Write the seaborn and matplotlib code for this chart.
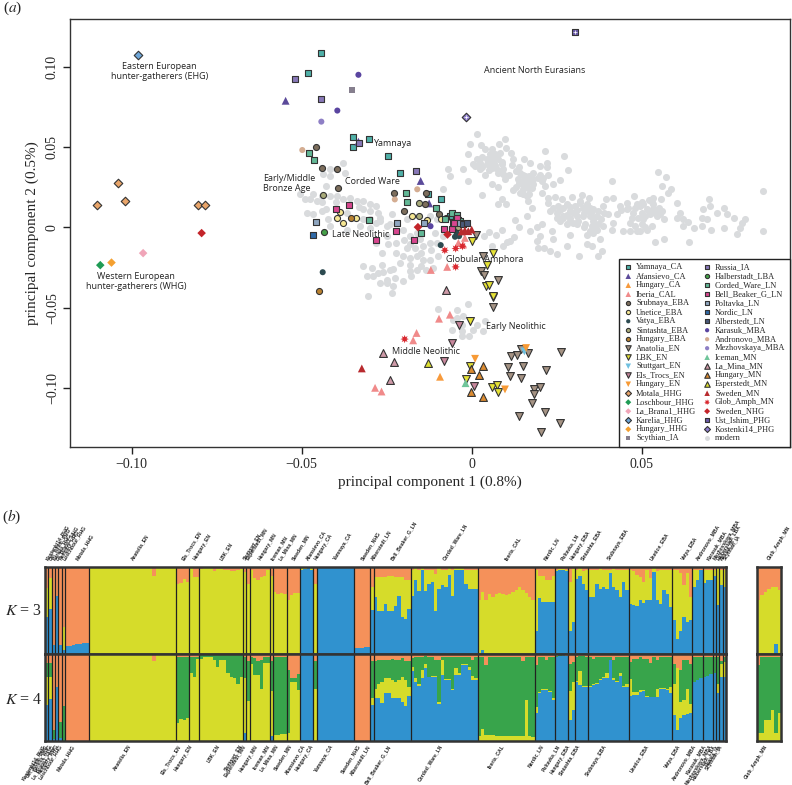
import numpy as np
import pandas as pd
import seaborn as sns
import matplotlib
matplotlib.use('Agg')
from matplotlib import pyplot as plt

sns.set_theme(style="ticks")
plt.rcParams['font.family'] = ['Liberation Serif', 'DejaVu Sans']
plt.rcParams['mathtext.fontset'] = 'stix'

# PCA coordinates below are (pc1, pc2) in thousandths
yamnaya_ca = [(-44.3, 108.8), (-48.1, 96.5), (-35.0, 56.5), (-35.0, 50.2), (-30.1, 55.0), (-24.5, 44.6), (-21.1, 33.8),
              (-12.7, 20.6), (-9.1, 17.5), (-6.4, 7.1), (-5.5, 3.5)]
afansievo_ca = [(-54.7, 79.0), (-33.3, 53.5), (-15.0, 29.0), (-12.5, 15.0)]
hungary_ca = [(-9.3, -93.1)]
iberia_cal = [(-12.0, -26.5), (-7.2, -24.6), (-3.9, -9.6), (-2.0, -6.5), (-2.5, -10.6), (-9.6, -56.9), (-6.4, -54.4),
              (-16.2, -65.8), (-17.2, -70.4), (-28.4, -100.0), (-26.5, -102.3)]
srubnaya_eba = [(-45.8, 50.4), (-44.1, 37.3), (-39.5, 36.7), (-39.2, 24.8), (-22.9, 21.7), (-20.0, 10.2), (-13.3, 21.7),
                (-13.8, 14.4), (-9.6, 8.1)]
unetice_eba = [(-39.5, 5.8), (-38.7, 9.6), (-37.8, 2.5), (-34.0, 5.8), (-17.4, 6.9), (-13.0, 4.6), (-9.1, 5.4)]
vatya_eba = [(-43.8, -27.9), (-9.1, -11.0), (-4.9, -5.8), (-3.7, -5.4), (-4.4, -3.3)]
sintashta_eba = [(-43.8, 20.2), (-15.4, 15.0), (-15.4, 7.1), (-4.1, 0.4), (-7.5, 6.0)]
hungary_eba = [(-35.6, 6.0), (-44.8, -39.6)]
anatolia_en = [(6.2, -49.8), (11.5, -80.2), (13.2, -79.8), (14.4, -75.8), (16.7, -78.3), (26.2, -77.5), (10.8, -87.3),
               (15.0, -86.5), (21.8, -88.8), (11.3, -92.7), (14.6, -94.0), (18.3, -100.6), (20.2, -99.2), (18.3, -103.8),
               (17.8, -109.2), (21.7, -115.0), (13.9, -117.5), (26.0, -121.9), (20.4, -127.7), (3.4, -17.5), (2.7, -26.9),
               (3.6, -29.8), (7.6, -32.5), (1.3, -5.0)]
lbk_en = [(-0.5, -58.5), (6.4, -43.3), (-0.4, -86.3), (-1.8, -94.4), (5.9, -99.2), (7.4, -98.5), (7.8, -102.3), (6.2, -15.8),
          (4.6, -23.1), (4.1, -36.3), (5.2, -35.6), (6.4, -42.9), (0.0, -8.5)]
stuttgart_en = [(15.5, -77.3)]
els_trocs_en = [(-3.7, -60.6), (-5.7, -72.3), (-8.0, -83.5), (0.7, -98.9)]
hungary_en = [(1.0, -81.9), (9.8, -101.0), (16.0, -75.2)]
motala_hhg = [(-104.0, 27.7), (-110.3, 14.0), (-101.9, 16.3), (-80.4, 14.0), (-78.4, 14.0)]
loschbour_hhg = [(-109.2, -23.5)]
la_brana1_hhg = [(-96.6, -16.0)]
karelia_hhg = [(-98.2, 107.7)]
hungary_hhg = [(-105.9, -21.9)]
scythian_ia = [(-35.1, 85.6)]
russia_ia = [(-52.0, 92.3), (-44.2, 80.0), (-33.0, 52.9), (-16.5, 35.4), (-4.1, 4.6)]
halberstadt_lba = [(-43.4, -2.7)]
corded_ware_ln = [(-47.8, 46.3), (-46.4, 41.9), (-19.4, 21.7), (-19.0, 15.8), (-10.5, 12.1), (-5.9, 9.2), (-30.1, 4.8),
                  (-14.9, -3.3), (-7.9, 5.4), (-4.4, 7.5), (-3.5, 4.0)]
bell_beaker_g_ln = [(-39.9, 11.5), (-36.1, 13.8), (-22.3, -2.5), (-28.2, -7.7), (-16.9, -8.1), (-8.0, -0.8), (-5.9, -0.8),
                    (-4.4, 6.0), (-5.2, 2.9)]
poltavka_ln = [(-45.8, 3.5), (-21.9, 2.5), (-14.0, 2.7), (-3.5, 2.5)]
nordic_ln = [(-46.6, -4.6)]
alberstedt_ln = [(-2.5, 1.9), (-1.5, 2.5)]
karasuk_mba = [(-33.3, 95.2), (-39.5, 72.9), (-12.1, 0.8)]
andronovo_mba = [(-49.8, 48.3), (-22.6, 17.5), (-16.0, 23.8)]
mezhovskaya_mba = [(-44.2, 66.0)]
iceman_mn = [(-1.8, -97.1)]
la_mina_mn = [(-26.0, -78.3), (-22.8, -84.1), (-24.0, -95.2), (-7.4, -38.8)]
hungary_mn = [(3.2, -86.7), (2.3, -92.3), (-0.2, -88.3), (-0.2, -102.7), (3.3, -105.8)]
esperstedt_mn = [(-12.9, -84.8)]
sweden_mn = [(-1.0, -2.3), (0.0, -1.3), (-2.0, -1.8), (-3.0, -2.5), (-32.3, -87.9)]
glob_amph_mn = [(-7.9, -14.2), (-4.7, -13.1), (-2.7, -11.7), (-4.7, -24.6), (-19.7, -69.6)]
sweden_nhg = [(-79.4, -3.5), (-15.8, 0.2), (-7.1, -4.4)]
ust_ishim_phg = [(30.4, 121.9)]
kostenki14_phg = [(-1.6, 69.0)]

modern = [(1.7, 58.3), (9.8, 55.4), (8.1, 51.9), (2.6, 51.3), (3.9, 49.2), (5.9, 48.8), (10.1, 49.8), (11.6, 46.3), (21.6, 47.7),
          (27.1, 44.4), (8.3, 46.7), (6.9, 45.6), (12.2, 42.5), (15.5, 42.5), (17.1, 40.4), (22.2, 40.4), (1.5, 42.5), (4.4, 42.5),
          (6.4, 42.5), (7.8, 42.5), (2.4, 40.4), (4.4, 39.4), (6.4, 40.4), (8.8, 39.4), (1.0, 38.3), (2.4, 36.7), (5.9, 37.3),
          (7.3, 37.3), (9.3, 36.7), (12.0, 38.8), (14.0, 37.9), (20.1, 38.3), (22.2, 37.9), (28.4, 35.8), (14.2, 34.2), (18.1, 34.2),
          (7.8, 34.2), (9.3, 33.1), (3.9, 32.7), (9.8, 30.0), (15.7, 32.1), (19.6, 31.0), (22.5, 32.7), (13.7, 30.0), (17.1, 29.0),
          (15.2, 29.0), (20.6, 29.0), (26.0, 29.6), (41.2, 29.0), (54.9, 34.8), (57.1, 31.5), (55.9, 25.8), (58.5, 23.8), (57.8, 21.3),
          (85.8, 22.7), (5.9, 26.9), (7.8, 25.2), (21.6, 25.8), (24.0, 26.9), (12.2, 23.1), (14.2, 21.7), (16.2, 19.6), (17.6, 24.4),
          (3.0, 20.0), (8.8, 17.9), (7.8, 14.4), (10.1, 14.4), (15.2, 20.6), (16.7, 16.5), (20.6, 21.3), (22.5, 18.5), (24.5, 19.2),
          (26.5, 17.9), (29.4, 19.2), (32.5, 20.2), (34.6, 18.5), (39.4, 17.9), (41.7, 18.5), (47.7, 19.6), (53.4, 18.5), (52.0, 17.1),
          (55.6, 17.5), (60.3, 15.0), (69.8, 17.5), (70.1, 13.3), (68.1, 11.3), (74.3, 12.1), (72.2, 8.8), (75.0, 8.1), (77.0, 6.0),
          (80.4, 5.4), (79.4, 2.9), (78.9, -0.2), (78.1, -4.0), (85.6, -2.5), (74.2, -0.2), (70.4, -1.3), (67.6, 6.0), (67.6, 0.8),
          (69.3, 5.0), (65.5, -0.6), (63.7, 3.3), (62.0, 0.8), (60.5, 6.0), (61.3, 9.2), (62.2, 5.0), (56.6, 5.0), (54.9, 11.3),
          (53.4, 11.3), (52.9, 0.8), (51.5, -1.3), (48.5, -2.3), (46.6, -2.3), (44.6, -2.3), (56.6, -6.9), (53.9, -9.0), (63.9, -9.0),
          (41.7, 2.9), (41.2, -1.3), (38.7, 0.8), (37.7, -7.1), (38.2, -14.8), (37.2, -17.9), (35.3, -11.7), (33.8, -10.6), (31.7, -17.9),
          (27.9, -11.7), (25.2, -16.3), (23.0, -14.8), (21.3, -12.7), (19.6, -12.7), (19.1, -8.5), (20.1, -5.4), (24.0, -7.5), (23.5, -2.3),
          (26.0, 4.0), (27.9, 1.9), (29.9, 2.9), (30.9, 7.1), (32.8, 7.1), (34.8, 7.1), (36.8, 7.1), (28.9, 10.2), (27.0, 12.3), (25.0, 9.2),
          (23.0, 10.2), (22.5, 15.4), (27.9, 14.4), (31.9, 16.5), (33.8, 14.4), (35.8, 11.3), (38.7, 13.3), (42.6, 8.1), (40.2, 8.1),
          (43.6, 13.3), (45.6, 15.0), (47.5, 9.2), (49.5, 13.3), (51.5, 11.3), (46.6, 2.9), (50.5, 5.0), (55.4, 8.1), (54.4, 7.1),
          (33.8, -4.4), (35.8, -3.3), (33.3, 1.9), (35.3, 0.8), (28.9, -4.4), (20.6, 1.9), (19.1, 0.4), (17.1, -2.3), (14.0, 0.2),
          (12.7, 4.4), (16.2, 7.1), (17.6, 11.9), (12.5, -6.0), (10.3, -9.2), (9.3, -11.7), (7.3, -5.0), (8.8, -1.7), (5.2, -2.9),
          (3.6, -5.4), (11.3, -8.5), (5.9, -11.3), (25.0, 6.0), (27.0, 7.1), (28.9, 6.0), (31.4, 4.0), (33.3, 10.2), (35.8, 4.0),
          (37.2, 1.9), (37.2, 10.2), (34.8, 12.3), (32.8, 12.3), (30.4, 13.3), (25.5, 13.3), (45.6, 11.3), (48.0, 12.3), (50.0, 9.2),
          (52.4, 8.1), (53.9, 9.2), (48.5, 14.4), (50.5, 14.4), (53.4, 14.4), (49.5, -2.3), (34.8, -2.3), (36.8, -1.3), (0.5, 39.4),
          (5.4, 45.6), (16.2, 30.0), (14.7, 26.9), (16.7, 24.8),
          (-1.0, 45.6), (-1.0, 29.0), (-6.4, 32.1), (-8.4, 23.8), (-6.9, 36.3), (-2.5, 36.3), (-0.5, 51.9), (-50.5, 20.6), (-49.0, 17.5),
          (-47.6, 17.5), (-45.6, 16.5), (-46.6, 20.6), (-44.1, 19.6), (-41.7, 19.6), (-39.7, 19.6), (-37.8, 17.5), (-35.8, 18.5),
          (-33.8, 16.5), (-31.9, 16.5), (-29.9, 14.4), (-28.0, 13.3), (-48.5, 9.2), (-46.6, 8.1), (-44.1, 10.2), (-42.7, 11.3), (-42.2, 5.0),
          (-41.7, 0.8), (-36.8, -1.3), (-32.9, 0.8), (-29.9, -0.2), (-25.0, 0.8), (-27.0, 6.0), (-41.7, 32.1), (-43.6, 33.1), (-41.7, 36.3),
          (-37.8, 40.4), (-37.3, 34.2), (-42.7, 25.8), (-36.8, 9.2), (-31.9, 11.3), (-27.5, 9.2), (-23.5, 8.1), (-19.1, 5.0), (-12.3, 7.1),
          (-10.3, 5.0), (-8.4, -5.4), (-10.8, -3.3), (-14.2, -11.7), (-16.7, -12.7), (-19.1, -12.7), (-16.2, -17.9), (-18.2, -19.0),
          (-14.2, -20.0), (-20.1, -17.9), (-22.1, -15.8), (-26.5, -15.8), (-28.0, -9.6), (-24.5, -10.6), (-22.1, -9.6), (-12.3, -20.0),
          (-11.3, -25.2), (-13.3, -26.3), (-16.2, -26.3), (-17.7, -30.4), (-20.1, -33.5), (-22.6, -31.5), (-25.0, -32.5), (-27.5, -28.3),
          (-29.4, -25.2), (-31.9, -24.2), (-30.9, -30.4), (-28.9, -30.4), (-27.0, -34.6), (-30.4, -42.9), (-25.0, -34.6), (-23.1, -36.7),
          (-15.2, -7.5), (-12.3, -9.6), (-10.3, -9.6), (-31.9, 5.0), (-29.9, 5.0), (-28.0, 2.9), (-20.1, -1.3), (-18.2, -5.4), (-16.2, -3.3),
          (-25.0, -5.4), (-18.2, -23.1), (-24.0, -26.3), (-26.5, -23.1),
          (-23.5, -40.8), (-9.8, -50.8), (-4.4, -51.3), (-1.2, -47.7), (-2.5, -55.4), (-4.4, -56.5), (-5.9, -63.8), (-2.9, -64.8),
          (-0.7, -67.5), (-2.9, -67.9), (3.4, -64.8), (3.9, -58.5), (0.5, -63.8), (1.5, -60.6), (-5.4, -57.5), (-2.9, -60.6),
          (3.0, 44.0), (5.0, 41.0), (7.0, 39.0), (9.0, 41.0), (3.0, 38.0), (5.0, 36.0), (8.0, 35.0), (10.0, 32.0), (11.0, 33.0),
          (13.0, 35.0), (15.0, 33.0), (17.0, 32.0), (18.0, 30.0), (20.0, 33.0), (21.0, 31.0), (14.0, 28.0), (16.0, 27.0), (18.0, 27.0),
          (13.0, 25.0), (15.0, 24.0), (17.0, 21.0), (24.0, 12.0), (26.0, 11.0), (28.0, 8.0), (30.0, 9.0), (31.0, 11.0), (33.0, 9.0),
          (35.0, 9.0), (36.0, 6.0), (38.0, 5.0), (39.0, 9.0), (29.0, 13.0), (32.0, 15.0), (27.0, 6.0), (29.0, 4.0), (31.0, 2.0),
          (33.0, 0.0), (36.0, -1.0), (44.0, 11.0), (46.0, 12.0), (47.0, 6.0), (49.0, 6.0), (51.0, 7.0), (52.0, 10.0), (55.0, 12.0),
          (56.0, 10.0), (50.0, 16.0), (53.0, 16.0), (48.0, 1.0), (50.0, 2.0), (51.0, 0.0), (-44.0, 16.0), (-40.0, 16.0), (-36.0, 14.0),
          (-33.0, 13.0), (-30.0, 10.0), (-27.0, 4.0), (-24.0, 2.0), (-20.0, -8.0), (-18.0, -10.0), (-15.0, -16.0), (-12.0, -14.0),
          (-21.0, -22.0), (-23.0, -26.0), (-26.0, -28.0), (-15.0, -24.0), (-18.0, -27.0), (-10.0, -18.0)]

# name, points, marker, fill, edge (None = no outline), in legend order
dk = '#333333'
star = (8, 1, 0)
pca_groups = [
    ('Yamnaya_CA', yamnaya_ca, 's', '#4fb0a8', dk), ('Afansievo_CA', afansievo_ca, '^', '#5b4a9a', None),
    ('Hungary_CA', hungary_ca, '^', '#f79a3c', None), ('Iberia_CAL', iberia_cal, '^', '#f08a8a', None),
    ('Srubnaya_EBA', srubnaya_eba, 'o', '#7d6e5c', dk), ('Unetice_EBA', unetice_eba, 'o', '#f6e793', dk),
    ('Vatya_EBA', vatya_eba, 'o', '#2c4a50', None), ('Sintashta_EBA', sintashta_eba, 'o', '#a9ab7a', dk),
    ('Hungary_EBA', hungary_eba, 'o', '#b9812f', dk), ('Anatolia_EN', anatolia_en, 'v', '#a59384', dk),
    ('LBK_EN', lbk_en, 'v', '#e6e235', dk), ('Stuttgart_EN', stuttgart_en, 'v', '#6fc0e0', None),
    ('Els_Trocs_EN', els_trocs_en, 'v', '#c8879c', dk), ('Hungary_EN', hungary_en, 'v', '#f79a35', None),
    ('Motala_HHG', motala_hhg, 'D', '#e9a56a', dk), ('Loschbour_HHG', loschbour_hhg, 'D', '#1f9b55', None),
    ('La_Brana1_HHG', la_brana1_hhg, 'D', '#f0a5b8', None), ('Karelia_HHG', karelia_hhg, 'D', '#6ea6d8', dk),
    ('Hungary_HHG', hungary_hhg, 'D', '#f4a030', None), ('Scythian_IA', scythian_ia, 's', '#867f8e', None),
    ('Russia_IA', russia_ia, 's', '#8878b8', dk), ('Halberstadt_LBA', halberstadt_lba, 'o', '#45a149', dk),
    ('Corded_Ware_LN', corded_ware_ln, 's', '#62b896', dk), ('Bell_Beaker_G_LN', bell_beaker_g_ln, 's', '#d8468f', dk),
    ('Poltavka_LN', poltavka_ln, 's', '#8fa6c0', dk), ('Nordic_LN', nordic_ln, 's', '#2f6aa8', dk),
    ('Alberstedt_LN', alberstedt_ln, 's', '#4a5a7a', dk), ('Karasuk_MBA', karasuk_mba, 'o', '#5a45a0', None),
    ('Andronovo_MBA', andronovo_mba, 'o', '#d4ad92', None), ('Mezhovskaya_MBA', mezhovskaya_mba, 'o', '#8e7fc5', None),
    ('Iceman_MN', iceman_mn, '^', '#6fc59a', None), ('La_Mina_MN', la_mina_mn, '^', '#cf9aa8', dk),
    ('Hungary_MN', hungary_mn, '^', '#dc8b30', dk), ('Esperstedt_MN', esperstedt_mn, '^', '#dde030', dk),
    ('Sweden_MN', sweden_mn, '^', '#b82a2e', None), ('Glob_Amph_MN', glob_amph_mn, star, '#d9282f', None),
    ('Sweden_NHG', sweden_nhg, 'D', '#c3242a', None), ('Ust_Ishim_PHG', ust_ishim_phg, 's', '#6a5aa8', dk),
    ('Kostenki14_PHG', kostenki14_phg, 'D', '#8f7fd0', dk),
]

# name, pc1, pc2, alignment
pca_notes = [('Eastern European\nhunter-gatherers (EHG)', -0.0917, 0.0975, 'center'),
             ('Western European\nhunter-gatherers (WHG)', -0.0987, -0.0338, 'center'),
             ('Ancient North Eurasians', 0.0186, 0.0981, 'center'),
             ('Yamnaya', -0.0234, 0.0525, 'center'),
             ('Early/Middle\nBronze Age', -0.0614, 0.0275, 'left'),
             ('Corded Ware', -0.0293, 0.0288, 'center'),
             ('Late Neolithic', -0.0326, -0.0044, 'center'),
             ('Globular Amphora', 0.0039, -0.0200, 'center'),
             ('Early Neolithic', 0.0130, -0.0619, 'center'),
             ('Middle Neolithic', -0.0134, -0.0775, 'center')]

# admixture panels
pop_names = ['Kostenki14_PHG', 'Ust_Ishim_PHG', 'Karelia_HHG', 'La_Brana1_HHG', 'Hungary_HHG', 'Loschbour_HHG', 'Motala_HHG',
             'Anatolia_EN', 'Els_Trocs_EN', 'Hungary_EN', 'LBK_EN', 'Stuttgart_EN', 'Esperstedt_MN', 'Hungary_MN', 'Iceman_MN',
             'La_Mina_MN', 'Sweden_MN', 'Afansievo_CA', 'Hungary_CA', 'Yamnaya_CA', 'Sweden_NHG', 'Alberstedt_LN',
             'Bell_Beaker_G_LN', 'Corded_Ware_LN', 'Iberia_CAL', 'Nordic_LN', 'Poltavka_LN', 'Hungary_EBA', 'Sintashta_EBA',
             'Srubnaya_EBA', 'Unetice_EBA', 'Vatya_EBA', 'Andronovo_MBA', 'Karasuk_MBA', 'Mezhovskaya_MBA', 'Halberstadt_LBA',
             'Russia_IA', 'Scythian_IA']

# one inner list per population, one value per individual: top of each stacked colour
k3_blue = [[.43], [.52], [.10], [.67], [.10], [.05], [.09, .09, .10, .11, .12, .13, .13],
           [0] * 26, [0] * 4, [0] * 3, [0] * 13, [0], [0], [0] * 6, [0], [0] * 4, [0] * 4,
           [.97, .98, .99, .97], [0], [.99] * 11, [.065, .07, .07, .08, .08], [.51],
           [.65, .50, .50, .58, .50, .50, .55, .67, .42, .40, .52],
           [.67, .85, .72, .97, .72, .81, .83, .49, .75, .79, .77, .91, .67, .97, .97, .97, .81, .75, .75, .75],
           [0, .05] + [0] * 15, [.27, .64, .60, .60, .60, .60], [.95, .96, .96, .95], [.27, .37],
           [.86, .90, .81, .74], [.66, .66, .81, .75, .77, .75, .93, .77, .74, .66, .83, .74],
           [.58, .56, .55, .62, .59, .62, .62, .94, .62, .57, .73, .69, .54], [.39, .17, .27, .43, .37, .39],
           [.77, .85, .97], [.82, .85, .85], [.90], [.56], [.79], [.77]]
k3_yellow = [[.76], [.87], [.10], [.67], [.10], [.31], [.09, .09, .10, .11, .12, .13, .13],
             [1.0] * 19 + [.90] + [1.0] * 6, [.81, .82, .86, .83], [1.0, .89, .89],
             [.98, .99, .99, .99, .95, .98, .98, .97, .96, .95, .95, .96, .98], [.94], [.80],
             [.97, .87, .85, .89, .90, .97], [.90], [.71, .69, .70, .69], [.62, .68, .70, .70],
             [1.0] * 4, [.81], [1.0] * 11, [.065, .07, .07, .08, .08], [.77],
             [.88, .88, .88, .89, .90, .90, .88, .88, .88, .85, .85],
             [.97, .99, .97, .99, .97, .97, .97, .92, .99, .97, .97, .99, .97, .99, .99, 1.0, .97, .97, .97, .97],
             [.62, .71, .62, .69, .66, .69, .70, .69, .68, .69, .71, .74, .77, .74, .70, .66, .62],
             [.96, .90, .90, .85, .85, .90], [.97, .98, .98, .97], [.83, .98], [.97, .99, .95, .97],
             [.97, .97, .96, .98, .97, .97, .97, .98, .97, .96, .97, .97],
             [.97, .95, .91, .88, .83, .97, .87, .99, .95, .97, .97, .97, .97], [.97, .97, .93, .79, .93, .66],
             [.97, .97, .97], [.97, .97, .97], [.97], [.98], [.97], [.97]]

k4_blue = [[.41], [.48], [.02], [.62], [.03], [0], [0] * 7,
           [0] * 26, [0] * 4, [0] * 3, [0] * 13, [.09], [0], [0] * 6, [.06], [0] * 4, [0] * 4,
           [.99] * 4, [0], [1.0] * 11, [0] * 5, [.41],
           [.49, .50, .44, .55, .55, .50, .50, .50, .45, .40, .52],
           [.80, .68, .63, .72, .84, .73, .74, .74, .43, .76, .70, .70, .59, .76, .76, .87, .87, .82, .70, .70],
           [0] * 17, [.32, .55, .59, .59, .56, .47], [.97, .98, .99, .98], [.24, .36], [.68, .64, .62, .62],
           [.62, .64, .66, .70, .72, .72, .93, .70, .68, .75, .62, .62],
           [.52, .53, .53, .56, .57, .51, .51, .51, .51, .60, .60, .59, .55], [.30, .13, .26, .30, .31, .32],
           [.68, .70, .72], [.74, .75, .77], [.78], [.55], [.73], [.73]]
k4_yellow = [[.74], [.73], [.02], [.62], [.03], [0], [0] * 7,
             [1.0] * 19 + [.92] + [1.0] * 6, [.21, .25, .24, .27], [.78, .73, .94],
             [.94, .97, .97, .97, .93, .85, .93, .93, .78, .74, .72, .66, .73], [.72], [.46],
             [.88, .76, .76, .60, .90, .90], [.57], [.07, .07, .08, .08], [.09, .68, .68, .59],
             [.99] * 4, [.60], [1.0] * 11, [0] * 5, [.49],
             [.60, .65, .68, .72, .72, .70, .68, .70, .73, .70, .62],
             [.85, .72, .65, .82, .88, .74, .75, .75, .45, .93, .71, .71, .60, .84, .78, .88, .88, .85, .75, .72],
             [.06, .14, .07, .07, .07, .06, .06, .06, .06, .06, .06, .06, .06, .06, .47, .06, .05],
             [.39, .56, .60, .60, .57, .50], [.97, .98, .99, .98], [.57, .68], [.69, .80, .63, .63],
             [.63, .66, .67, .71, .73, .78, .93, .72, .69, .78, .63, .66],
             [.71, .56, .56, .59, .59, .52, .51, .51, .60, .61, .61, .60, .62], [.66, .84, .45, .47, .60, .43],
             [.68, .70, .72], [.74, .75, .77], [.78], [.66], [.88], [.91]]
k4_green = [[.90], [.90], [.13], [.62], [.22], [.40], [0] * 7,
            [1.0] * 19 + [.92] + [1.0] * 6, [.97, .97, .97, .97], [.96, .96, .97], [.99] * 13, [.97], [.92],
            [.96, .95, .92, .93, .96, .96], [.92], [.97] * 4, [.82, .72, .72, .77],
            [.99] * 4, [.92], [1.0] * 11, [0] * 5, [.92],
            [.92, .93, .93, .93, .93, .94, .93, .93, .95, .92, .92],
            [.95, .97, .97, .97, .98, .97, .97, .93, .93, .97, .97, .97, .97, .97, .97, .97, .97, .97, .93, .97],
            [.96, .96, .87, .96, .96, .96, .96, .96, .96, .96, .96, .96, .96, .92, .96, .96, .96],
            [.87, .96, .96, .93, .96, .96], [.98, .99, .99, .98], [.89, .91], [.97, .98, .98, .96],
            [.97, .94, .96, .97, .96, .96, .97, .93, .97, .97, .97, .96],
            [.91, .94, .94, .97, .94, .94, .90, .96, .93, .97, .97, .97, .97], [.88, .84, .82, .93, .93, .88],
            [.97, .97, .97], [.97, .97, .97], [.97], [.97], [.92], [.97]]

glob_name = 'Glob_Amph_MN'
glob_k3_blue = [0, 0, 0, 0, 0, .12, 0]
glob_k3_yellow = [.62, .68, .71, .75, .77, .77, .74]
glob_k4_blue = [0, 0, 0, 0, 0, 0, 0]
glob_k4_yellow = [.09, .09, .24, .24, .36, .09, .32]
glob_k4_green = [.87, .97, .97, .97, .97, .97, .97]

orange, yellow, green, blue = '#f5915a', '#d6dc2a', '#38a44b', '#3092cf'
W, H = 792, 785
fig = plt.figure(figsize=(W / 100, H / 100), dpi=100)


def axes_px(left, top, right, bottom):
    return fig.add_axes([left / W, 1 - bottom / H, (right - left) / W, (bottom - top) / H])


# (a) PCA
ax = axes_px(70, 19, 790, 447)
modern_df = pd.DataFrame(modern, columns=['pc1', 'pc2']) / 1000
sns.scatterplot(data=modern_df, x='pc1', y='pc2', color='#d9dbdd', s=26, linewidth=0, marker='o', label='modern', ax=ax, zorder=1)
for name, pts, marker, fill, edge in pca_groups:
    df = pd.DataFrame(pts, columns=['pc1', 'pc2']) / 1000
    size = 36 if marker == star else (32 if marker in ('^', 'v') else 19)
    sns.scatterplot(data=df, x='pc1', y='pc2', marker=marker, color=fill, s=size, label=name, ax=ax, zorder=3,
                    edgecolor=edge if edge else 'none', linewidth=0.8 if edge else 0)
for pts in (ust_ishim_phg, kostenki14_phg):
    df = pd.DataFrame(pts, columns=['pc1', 'pc2']) / 1000
    sns.scatterplot(data=df, x='pc1', y='pc2', marker='+', color='white', s=9, linewidth=0.5, legend=False, ax=ax, zorder=4)

ax.set_xlim(-0.1181, 0.0936)
ax.set_ylim(-0.1369, 0.13)
ax.set_xticks([-0.10, -0.05, 0, 0.05])
ax.set_xticklabels(['\u22120.10', '\u22120.05', '0', '0.05'])
ax.set_yticks([-0.10, -0.05, 0, 0.05, 0.10])
ax.set_yticklabels(['\u22120.10', '\u22120.05', '0', '0.05', '0.10'], rotation=90, va='center')
ax.tick_params(length=5, width=1, labelsize=10, pad=3, color='#222222')
ax.set_xlabel('principal component 1 (0.8%)', fontsize=11, labelpad=3)
ax.set_ylabel('principal component 2 (0.5%)', fontsize=11, labelpad=5)
for sp in ax.spines.values():
    sp.set_linewidth(1.0)
    sp.set_color('#333333')

for note, x, y, align in pca_notes:
    ax.text(x, y, note, ha=align, va='center', fontsize=6.5, family='Open Sans', color='#222222', zorder=5, linespacing=1.15)

handles, labels = ax.get_legend_handles_labels()
handles = handles[1:] + handles[:1]
labels = labels[1:] + labels[:1]
leg = ax.legend(handles, labels, ncol=2, loc='lower right', bbox_to_anchor=(1, 0), borderaxespad=0, frameon=True, fancybox=False,
                edgecolor='#222222', framealpha=1, fontsize=6, markerscale=0.7, labelspacing=0.12, columnspacing=0.7,
                handletextpad=0.35, borderpad=0.55, handlelength=1.2)
leg.get_frame().set_linewidth(1.0)
leg.set_zorder(6)


# (b) admixture bars
def stacked_bars(ax, tops):
    idx = np.arange(len(tops[0][0])) + 0.5
    for values, color in tops:
        sns.barplot(x=idx, y=values, color=color, width=1, saturation=1, linewidth=0, errorbar=None,
                    native_scale=True, ax=ax)
    ax.set_xlim(0, len(idx))
    ax.set_ylim(0, 1)
    ax.set_xticks([])
    ax.set_yticks([])
    ax.set_xlabel('')
    ax.set_ylabel('')
    for sp in ax.spines.values():
        sp.set_linewidth(1.8)
        sp.set_color('#333333')


def flat(lists):
    return np.array([v for sub in lists for v in sub], dtype=float)


sizes = [len(s) for s in k3_blue]
edges = np.cumsum(sizes)
centers = edges - np.array(sizes) / 2
n_ind = edges[-1]

ax3 = axes_px(45, 567, 726, 654)
ax4 = axes_px(45, 654, 726, 741)
gl3 = axes_px(757, 567, 781, 654)
gl4 = axes_px(757, 654, 781, 741)

stacked_bars(ax3, [(np.ones(n_ind), orange), (flat(k3_yellow), yellow), (flat(k3_blue), blue)])
stacked_bars(ax4, [(np.ones(n_ind), orange), (flat(k4_green), green), (flat(k4_yellow), yellow), (flat(k4_blue), blue)])
n_glob = len(glob_k3_blue)
stacked_bars(gl3, [(np.ones(n_glob), orange), (np.array(glob_k3_yellow), yellow), (np.array(glob_k3_blue), blue)])
stacked_bars(gl4, [(np.ones(n_glob), orange), (np.array(glob_k4_green), green), (np.array(glob_k4_yellow), yellow),
                   (np.array(glob_k4_blue), blue)])

for a in (ax3, ax4):
    for e in edges[:-1]:
        a.axvline(e, color='#222222', lw=0.9)

label_font = dict(fontsize=3.6, fontweight='bold', family='Liberation Sans', color='#222222', rotation=58, rotation_mode='anchor')
for name, c in zip(pop_names, centers):
    ax3.annotate(name, xy=(c, 1), xytext=(0, 5), textcoords='offset points', ha='left', va='center', **label_font)
    ax4.annotate(name, xy=(c, 0), xytext=(-2, -3), textcoords='offset points', ha='right', va='center', **label_font)
gl3.annotate(glob_name, xy=(n_glob / 2, 1), xytext=(0, 5), textcoords='offset points', ha='left', va='center', **label_font)
gl4.annotate(glob_name, xy=(n_glob / 2, 0), xytext=(-2, -3), textcoords='offset points', ha='right', va='center', **label_font)

fig.text(5 / W, 1 - 611 / H, '$K$ = 3', fontsize=11.5, va='center')
fig.text(5 / W, 1 - 700 / H, '$K$ = 4', fontsize=11.5, va='center')
fig.text(3 / W, 1 - 8 / H, r'($\mathit{a}$)', fontsize=11, va='center')
fig.text(2 / W, 1 - 517 / H, r'($\mathit{b}$)', fontsize=11, va='center')

fig.savefig('out.png', dpi=100)
